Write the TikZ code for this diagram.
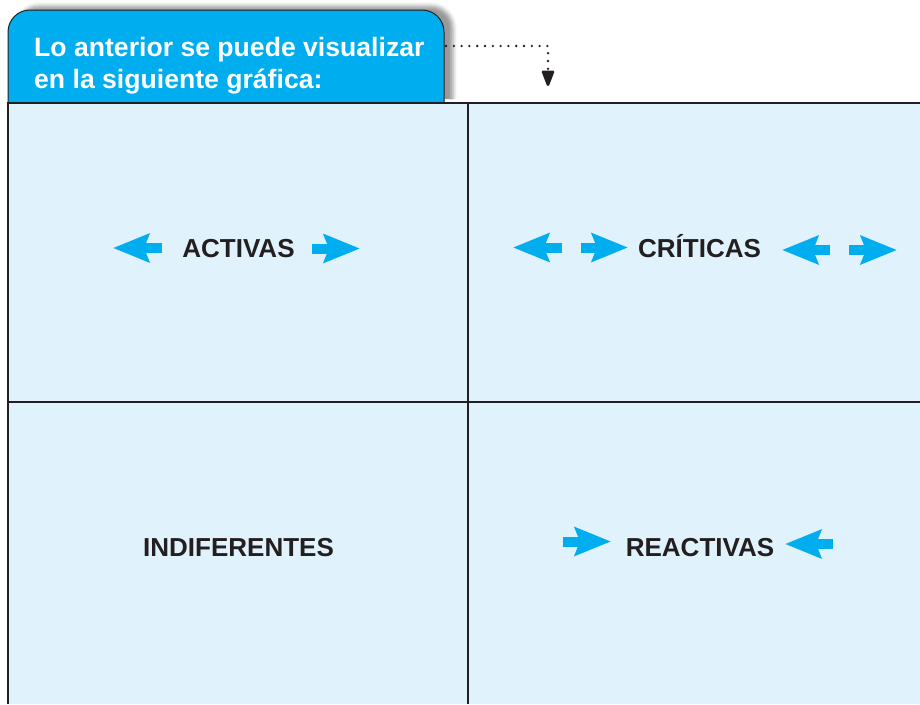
\documentclass[tikz,border=0pt]{standalone}
\usepackage{fontspec}
\setmainfont{Liberation Sans}
\usetikzlibrary{arrows.meta,shadows.blur}
\definecolor{tabblue}{HTML}{00AEEF}
\definecolor{cellblue}{HTML}{E0F2FB}
\definecolor{inkdark}{HTML}{231F20}

\begin{document}
\begin{tikzpicture}[
    x = 1pt, y = -1pt,
    tab/.style={draw=inkdark, line width=1pt, fill=tabblue, rounded corners=22pt, blur shadow={shadow xshift=9pt, shadow yshift=4pt, shadow blur radius=4pt, shadow opacity=40}},
    heading/.style={text=white, font=\bfseries\fontsize{26.6}{32.5}\selectfont, align=left, anchor=north west, inner sep=0pt},
    quadrant/.style={text=inkdark, font=\bfseries\fontsize{26}{30}\selectfont, anchor=base, inner sep=0pt},
    divider/.style={draw=inkdark, line width=2pt},
    bluearrow/.style={-{Stealth[length=36pt, width=28pt, inset=5pt]}, line width=10pt, draw=tabblue},
    pointer/.style={draw=inkdark, line width=2.6pt, line cap=round, dash pattern=on 0pt off 7.8pt, -{Triangle[length=18pt, width=13pt, round=false]}}
]
    \useasboundingbox (0,0) rectangle (920,704);

    % Tab
    \path[tab] (8,103) -- (8,10) -- (444,10) -- (444,103);
    \node (heading) at (34,37) [heading] {Lo anterior se puede visualizar\\en la siguiente gráfica:};

    % Pointer
    \coordinate (tabedge) at (446,46);
    \coordinate (drop) at (548,86);
    \draw[pointer] (tabedge) -| (drop);

    % Quadrants
    \fill[cellblue] (8,103) rectangle (920,704);
    \draw[divider] (8,704) -- (8,103) -- (920,103);
    \draw[divider] (468,103) -- (468,704);
    \draw[divider] (8,402) -- (920,402);

    % Activas
    \node (activas) at (238.5,257) [quadrant] {ACTIVAS};
    \draw[bluearrow] (162,248) -- (113,248);
    \draw[bluearrow] (312,248.5) -- (360,248.5);

    % Criticas
    \node (criticas) at (699.5,257) [quadrant] {CRÍTICAS};
    \draw[bluearrow] (562,247.5) -- (513,247.5);
    \draw[bluearrow] (581,247.5) -- (628,247.5);
    \draw[bluearrow] (830,250) -- (782,250);
    \draw[bluearrow] (849,250) -- (897,250);

    % Indiferentes
    \node (indiferentes) at (238.5,556) [quadrant] {INDIFERENTES};

    % Reactivas
    \node (reactivas) at (700,556) [quadrant] {REACTIVAS};
    \draw[bluearrow] (563,541.5) -- (611,541.5);
    \draw[bluearrow] (833,544) -- (785,544);
\end{tikzpicture}
\end{document}
